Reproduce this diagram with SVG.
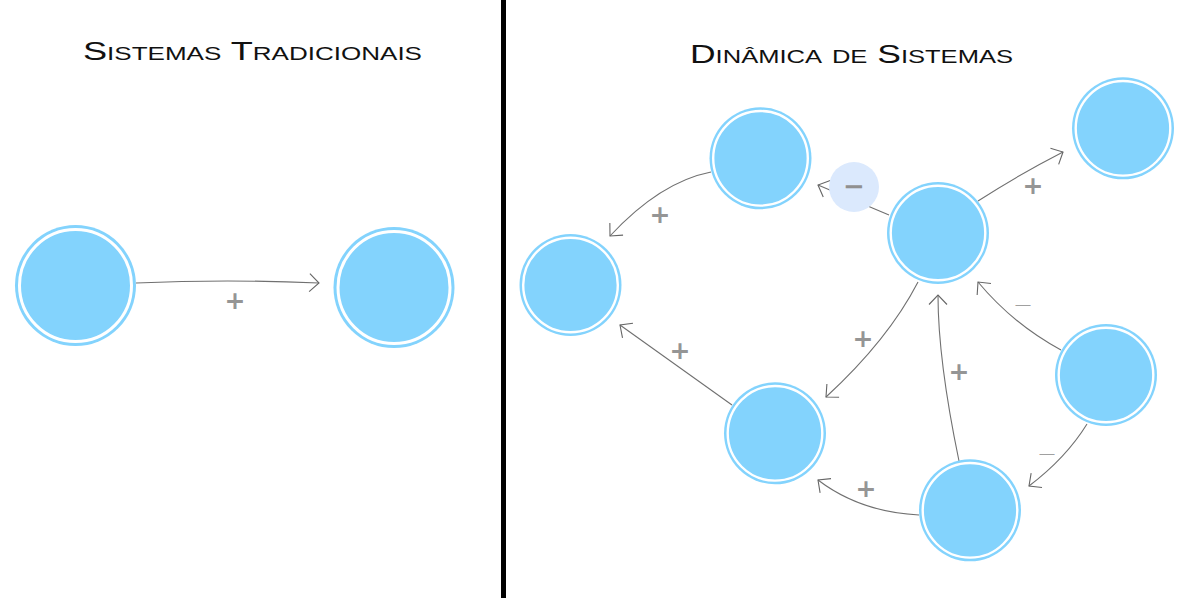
<svg xmlns="http://www.w3.org/2000/svg" width="1194" height="598" viewBox="0 0 1194 598">
<style>
  .title { font-family: "Liberation Sans", "DejaVu Sans", sans-serif; font-variant: small-caps; fill: #111; font-size: 25px; }
  .node { fill: #83d3fd; }
  .ring { fill: none; stroke: #ffffff; stroke-width: 2.4; }
  .ringL { fill: none; stroke: #ffffff; stroke-width: 3; }
  .edge { fill: none; stroke: #707070; stroke-width: 1.1; marker-end: url(#arr); }
  .plus { font-family: "DejaVu Sans", sans-serif; font-size: 25px; font-weight: bold; fill: #959595; text-anchor: middle; }
  .minus { font-family: "Liberation Sans", sans-serif; font-size: 15px; fill: #a0a0a0; text-anchor: middle; }
  .minusB { font-family: "DejaVu Sans", sans-serif; font-size: 26px; font-weight: bold; fill: #909090; text-anchor: middle; }
</style>
<defs>
  <marker id="arr" markerUnits="userSpaceOnUse" viewBox="-12 -12 24 24" markerWidth="24" markerHeight="24" refX="0" refY="0" orient="auto">
    <path d="M-9.5,-9 L0,0 L-9.5,9" fill="none" stroke="#666" stroke-width="1.1"/>
  </marker>
</defs>
<rect width="1194" height="598" fill="#ffffff"/>
<rect id="divider" x="501" y="0" width="5" height="598" fill="#000"/>

<text class="title" x="83" y="60" textLength="339" lengthAdjust="spacingAndGlyphs">Sistemas Tradicionais</text>
<text class="title" x="690" y="63" textLength="323" lengthAdjust="spacingAndGlyphs">Dinâmica de Sistemas</text>

<g id="connectors">
  <path class="edge" d="M136,283 Q228,279 319,283"/>
  <path class="edge" d="M711,172 Q660,182 610,236"/>
  <path class="edge" d="M889,215 L818,185"/>
  <path class="edge" d="M978,201 Q1020,174 1063,152"/>
  <path class="edge" d="M918,282 Q888,340 826,397"/>
  <path class="edge" d="M732,405 L620,325"/>
  <path class="edge" d="M919,515 Q860,512 818,480"/>
  <path class="edge" d="M959,461 Q938,360 938,295"/>
  <path class="edge" d="M1061,350 Q1013,324 978,282"/>
  <path class="edge" d="M1087,424 Q1066,458 1029,486"/>
</g>

<g id="labels">
  <text class="plus" x="235" y="309">+</text>
  <text class="plus" x="660" y="223">+</text>
  <circle cx="854" cy="187" r="25" fill="#dbe9fd"/>
  <text class="minusB" x="854" y="195">−</text>
  <text class="plus" x="1033" y="194">+</text>
  <text class="plus" x="863" y="347">+</text>
  <text class="plus" x="680" y="359">+</text>
  <text class="plus" x="866" y="497">+</text>
  <text class="plus" x="959" y="380">+</text>
  <text class="minus" x="1023" y="309">—</text>
  <text class="minus" x="1047" y="458">—</text>
</g>

<g id="node-left-a"><circle class="node" cx="75.5" cy="285.5" r="60.5"/><circle class="ringL" cx="75.5" cy="285.5" r="56"/></g>
<g id="node-left-b"><circle class="node" cx="394" cy="287.5" r="60.5"/><circle class="ringL" cx="394" cy="287.5" r="56"/></g>

<g id="node-1"><circle class="node" cx="760.5" cy="158.3" r="51"/><circle class="ring" cx="760.5" cy="158.3" r="47.3"/></g>
<g id="node-2"><circle class="node" cx="570.5" cy="285" r="51"/><circle class="ring" cx="570.5" cy="285" r="47.3"/></g>
<g id="node-3"><circle class="node" cx="938" cy="233" r="51"/><circle class="ring" cx="938" cy="233" r="47.3"/></g>
<g id="node-4"><circle class="node" cx="1123" cy="128.3" r="51"/><circle class="ring" cx="1123" cy="128.3" r="47.3"/></g>
<g id="node-5"><circle class="node" cx="775" cy="433.3" r="51"/><circle class="ring" cx="775" cy="433.3" r="47.3"/></g>
<g id="node-6"><circle class="node" cx="1106" cy="375" r="51"/><circle class="ring" cx="1106" cy="375" r="47.3"/></g>
<g id="node-7"><circle class="node" cx="970" cy="510.3" r="51"/><circle class="ring" cx="970" cy="510.3" r="47.3"/></g>
</svg>
